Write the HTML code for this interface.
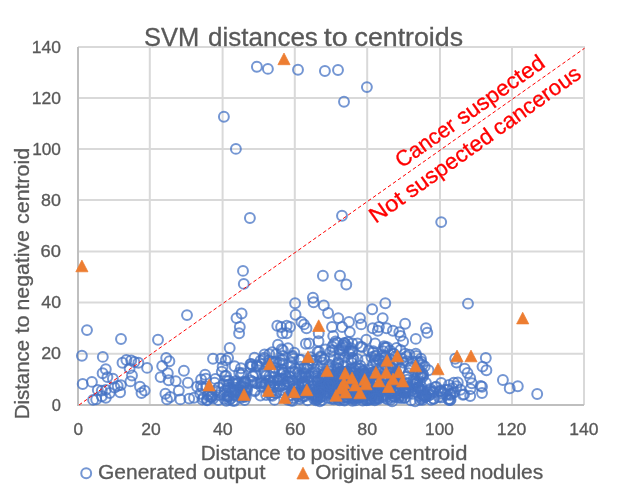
<!DOCTYPE html>
<html><head><meta charset="utf-8"><title>SVM distances to centroids</title>
<style>html,body{margin:0;padding:0;background:#fff;}body{width:629px;height:488px;position:relative;overflow:hidden;font-family:"Liberation Sans",sans-serif;}</style></head>
<body>
<svg width="629" height="488" viewBox="0 0 629 488" style="position:absolute;left:0;top:0;will-change:transform">
<rect width="629" height="488" fill="#fff"/>
<path d="M149.80 45.90V404.90M222.60 45.90V404.90M294.80 45.90V404.90M367.20 45.90V404.90M440.00 45.90V404.90M512.00 45.90V404.90M584.00 45.90V404.90M78.00 353.70H584.90M78.00 302.60H584.90M78.00 251.40H584.90M78.00 199.90H584.90M78.00 148.90H584.90M78.00 97.90H584.90M78.00 46.90H584.90" stroke="#D9D9D9" stroke-width="2" fill="none"/>
<path d="M78.00 46.90V405.90M77.00 404.90H584.00" stroke="#BFBFBF" stroke-width="2" fill="none"/>
<g fill="none" stroke="#4472C4" stroke-opacity="0.74" stroke-width="2">
<circle cx="335.3" cy="392.4" r="4.95"/>
<circle cx="389.7" cy="391.8" r="4.95"/>
<circle cx="389.7" cy="394.0" r="4.95"/>
<circle cx="331.6" cy="398.8" r="4.95"/>
<circle cx="279.2" cy="386.3" r="4.95"/>
<circle cx="354.8" cy="376.8" r="4.95"/>
<circle cx="310.1" cy="393.2" r="4.95"/>
<circle cx="368.1" cy="399.1" r="4.95"/>
<circle cx="367.0" cy="389.7" r="4.95"/>
<circle cx="413.7" cy="379.3" r="4.95"/>
<circle cx="317.6" cy="395.4" r="4.95"/>
<circle cx="341.2" cy="394.2" r="4.95"/>
<circle cx="403.2" cy="392.3" r="4.95"/>
<circle cx="394.0" cy="391.8" r="4.95"/>
<circle cx="397.4" cy="381.1" r="4.95"/>
<circle cx="300.0" cy="392.7" r="4.95"/>
<circle cx="322.7" cy="375.8" r="4.95"/>
<circle cx="359.9" cy="368.8" r="4.95"/>
<circle cx="309.5" cy="393.5" r="4.95"/>
<circle cx="295.2" cy="368.6" r="4.95"/>
<circle cx="366.1" cy="375.5" r="4.95"/>
<circle cx="355.0" cy="393.8" r="4.95"/>
<circle cx="290.7" cy="395.2" r="4.95"/>
<circle cx="338.0" cy="397.2" r="4.95"/>
<circle cx="362.7" cy="400.5" r="4.95"/>
<circle cx="324.7" cy="373.5" r="4.95"/>
<circle cx="396.4" cy="380.1" r="4.95"/>
<circle cx="361.2" cy="386.5" r="4.95"/>
<circle cx="273.4" cy="387.0" r="4.95"/>
<circle cx="364.5" cy="391.7" r="4.95"/>
<circle cx="374.3" cy="389.7" r="4.95"/>
<circle cx="329.0" cy="386.6" r="4.95"/>
<circle cx="364.1" cy="375.3" r="4.95"/>
<circle cx="327.8" cy="381.7" r="4.95"/>
<circle cx="305.2" cy="376.4" r="4.95"/>
<circle cx="304.6" cy="396.3" r="4.95"/>
<circle cx="307.6" cy="381.4" r="4.95"/>
<circle cx="379.6" cy="390.4" r="4.95"/>
<circle cx="356.6" cy="398.4" r="4.95"/>
<circle cx="356.5" cy="396.8" r="4.95"/>
<circle cx="360.4" cy="365.6" r="4.95"/>
<circle cx="358.4" cy="393.5" r="4.95"/>
<circle cx="369.8" cy="395.6" r="4.95"/>
<circle cx="360.8" cy="381.5" r="4.95"/>
<circle cx="343.5" cy="394.4" r="4.95"/>
<circle cx="354.9" cy="398.5" r="4.95"/>
<circle cx="359.6" cy="391.7" r="4.95"/>
<circle cx="341.5" cy="380.0" r="4.95"/>
<circle cx="353.7" cy="383.5" r="4.95"/>
<circle cx="299.0" cy="394.3" r="4.95"/>
<circle cx="363.3" cy="371.1" r="4.95"/>
<circle cx="417.0" cy="382.1" r="4.95"/>
<circle cx="317.0" cy="398.9" r="4.95"/>
<circle cx="375.7" cy="382.8" r="4.95"/>
<circle cx="333.8" cy="357.1" r="4.95"/>
<circle cx="338.0" cy="399.2" r="4.95"/>
<circle cx="373.5" cy="394.5" r="4.95"/>
<circle cx="398.8" cy="390.6" r="4.95"/>
<circle cx="329.5" cy="375.2" r="4.95"/>
<circle cx="308.2" cy="390.5" r="4.95"/>
<circle cx="348.9" cy="385.6" r="4.95"/>
<circle cx="407.5" cy="387.2" r="4.95"/>
<circle cx="370.0" cy="399.9" r="4.95"/>
<circle cx="321.5" cy="379.0" r="4.95"/>
<circle cx="415.6" cy="381.2" r="4.95"/>
<circle cx="404.6" cy="392.4" r="4.95"/>
<circle cx="350.4" cy="388.7" r="4.95"/>
<circle cx="306.2" cy="368.4" r="4.95"/>
<circle cx="378.0" cy="398.3" r="4.95"/>
<circle cx="374.8" cy="400.2" r="4.95"/>
<circle cx="398.2" cy="393.3" r="4.95"/>
<circle cx="355.7" cy="389.6" r="4.95"/>
<circle cx="380.4" cy="386.2" r="4.95"/>
<circle cx="322.0" cy="379.5" r="4.95"/>
<circle cx="344.9" cy="382.4" r="4.95"/>
<circle cx="350.5" cy="369.5" r="4.95"/>
<circle cx="347.2" cy="373.2" r="4.95"/>
<circle cx="356.1" cy="391.6" r="4.95"/>
<circle cx="377.5" cy="378.6" r="4.95"/>
<circle cx="343.0" cy="385.1" r="4.95"/>
<circle cx="323.0" cy="380.1" r="4.95"/>
<circle cx="343.8" cy="380.5" r="4.95"/>
<circle cx="359.9" cy="375.7" r="4.95"/>
<circle cx="323.3" cy="388.6" r="4.95"/>
<circle cx="334.5" cy="369.5" r="4.95"/>
<circle cx="318.9" cy="387.6" r="4.95"/>
<circle cx="360.9" cy="393.5" r="4.95"/>
<circle cx="333.1" cy="375.9" r="4.95"/>
<circle cx="275.6" cy="393.2" r="4.95"/>
<circle cx="355.1" cy="396.3" r="4.95"/>
<circle cx="325.0" cy="385.4" r="4.95"/>
<circle cx="341.9" cy="389.6" r="4.95"/>
<circle cx="403.3" cy="383.4" r="4.95"/>
<circle cx="331.2" cy="389.3" r="4.95"/>
<circle cx="393.9" cy="353.8" r="4.95"/>
<circle cx="390.8" cy="393.3" r="4.95"/>
<circle cx="342.1" cy="371.4" r="4.95"/>
<circle cx="362.5" cy="388.7" r="4.95"/>
<circle cx="375.7" cy="395.8" r="4.95"/>
<circle cx="317.5" cy="381.2" r="4.95"/>
<circle cx="320.3" cy="396.4" r="4.95"/>
<circle cx="352.8" cy="395.4" r="4.95"/>
<circle cx="352.4" cy="380.2" r="4.95"/>
<circle cx="333.9" cy="386.0" r="4.95"/>
<circle cx="355.8" cy="388.9" r="4.95"/>
<circle cx="331.5" cy="388.6" r="4.95"/>
<circle cx="340.5" cy="398.5" r="4.95"/>
<circle cx="356.3" cy="395.8" r="4.95"/>
<circle cx="376.8" cy="396.3" r="4.95"/>
<circle cx="390.8" cy="399.6" r="4.95"/>
<circle cx="351.7" cy="372.6" r="4.95"/>
<circle cx="351.7" cy="394.0" r="4.95"/>
<circle cx="387.3" cy="375.6" r="4.95"/>
<circle cx="391.0" cy="367.6" r="4.95"/>
<circle cx="347.8" cy="374.3" r="4.95"/>
<circle cx="342.9" cy="383.0" r="4.95"/>
<circle cx="408.2" cy="389.6" r="4.95"/>
<circle cx="314.9" cy="392.7" r="4.95"/>
<circle cx="352.5" cy="400.8" r="4.95"/>
<circle cx="315.0" cy="372.0" r="4.95"/>
<circle cx="384.1" cy="394.6" r="4.95"/>
<circle cx="317.0" cy="396.3" r="4.95"/>
<circle cx="388.0" cy="388.4" r="4.95"/>
<circle cx="355.8" cy="379.4" r="4.95"/>
<circle cx="336.9" cy="386.5" r="4.95"/>
<circle cx="338.1" cy="384.0" r="4.95"/>
<circle cx="345.7" cy="389.6" r="4.95"/>
<circle cx="345.0" cy="387.6" r="4.95"/>
<circle cx="346.4" cy="397.4" r="4.95"/>
<circle cx="352.3" cy="397.2" r="4.95"/>
<circle cx="372.7" cy="372.2" r="4.95"/>
<circle cx="333.4" cy="393.8" r="4.95"/>
<circle cx="292.5" cy="355.6" r="4.95"/>
<circle cx="336.2" cy="376.2" r="4.95"/>
<circle cx="388.3" cy="369.1" r="4.95"/>
<circle cx="338.1" cy="369.0" r="4.95"/>
<circle cx="370.5" cy="370.0" r="4.95"/>
<circle cx="392.6" cy="384.7" r="4.95"/>
<circle cx="346.7" cy="397.1" r="4.95"/>
<circle cx="333.5" cy="395.1" r="4.95"/>
<circle cx="293.3" cy="392.5" r="4.95"/>
<circle cx="326.0" cy="382.8" r="4.95"/>
<circle cx="365.0" cy="373.2" r="4.95"/>
<circle cx="288.5" cy="395.8" r="4.95"/>
<circle cx="342.9" cy="388.0" r="4.95"/>
<circle cx="339.2" cy="372.8" r="4.95"/>
<circle cx="318.0" cy="373.6" r="4.95"/>
<circle cx="335.5" cy="396.0" r="4.95"/>
<circle cx="343.8" cy="372.1" r="4.95"/>
<circle cx="339.7" cy="400.4" r="4.95"/>
<circle cx="338.5" cy="375.0" r="4.95"/>
<circle cx="330.6" cy="388.3" r="4.95"/>
<circle cx="302.0" cy="397.2" r="4.95"/>
<circle cx="366.3" cy="394.2" r="4.95"/>
<circle cx="389.8" cy="359.0" r="4.95"/>
<circle cx="342.3" cy="389.4" r="4.95"/>
<circle cx="358.3" cy="378.7" r="4.95"/>
<circle cx="330.7" cy="379.3" r="4.95"/>
<circle cx="400.0" cy="380.4" r="4.95"/>
<circle cx="305.0" cy="385.0" r="4.95"/>
<circle cx="318.0" cy="380.8" r="4.95"/>
<circle cx="346.5" cy="398.4" r="4.95"/>
<circle cx="366.2" cy="387.7" r="4.95"/>
<circle cx="415.1" cy="401.4" r="4.95"/>
<circle cx="269.5" cy="376.3" r="4.95"/>
<circle cx="317.4" cy="397.3" r="4.95"/>
<circle cx="382.6" cy="377.7" r="4.95"/>
<circle cx="345.1" cy="388.7" r="4.95"/>
<circle cx="359.4" cy="374.3" r="4.95"/>
<circle cx="390.4" cy="389.1" r="4.95"/>
<circle cx="333.6" cy="390.0" r="4.95"/>
<circle cx="343.7" cy="365.8" r="4.95"/>
<circle cx="323.0" cy="374.6" r="4.95"/>
<circle cx="281.0" cy="374.4" r="4.95"/>
<circle cx="302.2" cy="392.5" r="4.95"/>
<circle cx="319.7" cy="393.2" r="4.95"/>
<circle cx="336.2" cy="393.2" r="4.95"/>
<circle cx="373.3" cy="387.8" r="4.95"/>
<circle cx="340.9" cy="394.4" r="4.95"/>
<circle cx="393.6" cy="396.3" r="4.95"/>
<circle cx="366.0" cy="384.1" r="4.95"/>
<circle cx="271.2" cy="392.2" r="4.95"/>
<circle cx="352.2" cy="387.8" r="4.95"/>
<circle cx="376.1" cy="379.0" r="4.95"/>
<circle cx="302.4" cy="382.9" r="4.95"/>
<circle cx="370.4" cy="398.2" r="4.95"/>
<circle cx="357.6" cy="392.5" r="4.95"/>
<circle cx="341.3" cy="377.1" r="4.95"/>
<circle cx="287.8" cy="399.8" r="4.95"/>
<circle cx="375.2" cy="359.7" r="4.95"/>
<circle cx="378.4" cy="399.0" r="4.95"/>
<circle cx="339.5" cy="392.0" r="4.95"/>
<circle cx="412.0" cy="386.7" r="4.95"/>
<circle cx="375.1" cy="399.2" r="4.95"/>
<circle cx="372.8" cy="383.6" r="4.95"/>
<circle cx="404.8" cy="391.3" r="4.95"/>
<circle cx="349.5" cy="381.9" r="4.95"/>
<circle cx="412.7" cy="393.9" r="4.95"/>
<circle cx="395.6" cy="389.1" r="4.95"/>
<circle cx="366.5" cy="391.8" r="4.95"/>
<circle cx="339.3" cy="393.3" r="4.95"/>
<circle cx="293.5" cy="398.0" r="4.95"/>
<circle cx="354.4" cy="377.6" r="4.95"/>
<circle cx="331.4" cy="382.7" r="4.95"/>
<circle cx="294.7" cy="372.3" r="4.95"/>
<circle cx="348.3" cy="388.2" r="4.95"/>
<circle cx="335.9" cy="386.9" r="4.95"/>
<circle cx="342.8" cy="375.0" r="4.95"/>
<circle cx="347.0" cy="396.9" r="4.95"/>
<circle cx="292.6" cy="388.6" r="4.95"/>
<circle cx="364.5" cy="373.5" r="4.95"/>
<circle cx="374.7" cy="356.1" r="4.95"/>
<circle cx="357.7" cy="389.8" r="4.95"/>
<circle cx="347.6" cy="386.6" r="4.95"/>
<circle cx="319.9" cy="401.3" r="4.95"/>
<circle cx="294.4" cy="388.4" r="4.95"/>
<circle cx="369.6" cy="387.3" r="4.95"/>
<circle cx="367.2" cy="400.0" r="4.95"/>
<circle cx="382.4" cy="395.0" r="4.95"/>
<circle cx="393.5" cy="382.2" r="4.95"/>
<circle cx="377.8" cy="394.9" r="4.95"/>
<circle cx="406.0" cy="390.0" r="4.95"/>
<circle cx="325.6" cy="386.6" r="4.95"/>
<circle cx="333.6" cy="392.1" r="4.95"/>
<circle cx="338.6" cy="385.2" r="4.95"/>
<circle cx="418.6" cy="369.2" r="4.95"/>
<circle cx="299.6" cy="375.5" r="4.95"/>
<circle cx="333.9" cy="399.2" r="4.95"/>
<circle cx="283.3" cy="372.8" r="4.95"/>
<circle cx="289.7" cy="372.8" r="4.95"/>
<circle cx="283.9" cy="384.2" r="4.95"/>
<circle cx="355.7" cy="400.4" r="4.95"/>
<circle cx="372.3" cy="394.9" r="4.95"/>
<circle cx="374.5" cy="391.9" r="4.95"/>
<circle cx="398.6" cy="395.1" r="4.95"/>
<circle cx="338.2" cy="386.3" r="4.95"/>
<circle cx="282.0" cy="369.6" r="4.95"/>
<circle cx="350.0" cy="381.4" r="4.95"/>
<circle cx="383.1" cy="396.5" r="4.95"/>
<circle cx="303.5" cy="392.7" r="4.95"/>
<circle cx="374.7" cy="372.2" r="4.95"/>
<circle cx="375.7" cy="373.9" r="4.95"/>
<circle cx="329.1" cy="387.7" r="4.95"/>
<circle cx="348.7" cy="394.5" r="4.95"/>
<circle cx="346.0" cy="388.1" r="4.95"/>
<circle cx="394.7" cy="396.8" r="4.95"/>
<circle cx="335.3" cy="387.6" r="4.95"/>
<circle cx="343.1" cy="384.3" r="4.95"/>
<circle cx="372.1" cy="389.2" r="4.95"/>
<circle cx="355.0" cy="382.1" r="4.95"/>
<circle cx="304.6" cy="386.4" r="4.95"/>
<circle cx="297.3" cy="393.5" r="4.95"/>
<circle cx="317.6" cy="381.1" r="4.95"/>
<circle cx="392.1" cy="401.4" r="4.95"/>
<circle cx="375.3" cy="384.0" r="4.95"/>
<circle cx="310.7" cy="357.1" r="4.95"/>
<circle cx="353.9" cy="369.3" r="4.95"/>
<circle cx="377.5" cy="370.5" r="4.95"/>
<circle cx="377.5" cy="397.8" r="4.95"/>
<circle cx="385.1" cy="356.9" r="4.95"/>
<circle cx="380.2" cy="394.2" r="4.95"/>
<circle cx="325.1" cy="393.0" r="4.95"/>
<circle cx="362.4" cy="392.2" r="4.95"/>
<circle cx="298.6" cy="386.4" r="4.95"/>
<circle cx="359.1" cy="387.4" r="4.95"/>
<circle cx="359.5" cy="379.9" r="4.95"/>
<circle cx="377.5" cy="390.9" r="4.95"/>
<circle cx="334.3" cy="395.6" r="4.95"/>
<circle cx="331.7" cy="384.3" r="4.95"/>
<circle cx="310.6" cy="360.2" r="4.95"/>
<circle cx="311.3" cy="394.7" r="4.95"/>
<circle cx="328.2" cy="392.6" r="4.95"/>
<circle cx="280.1" cy="386.3" r="4.95"/>
<circle cx="378.2" cy="388.2" r="4.95"/>
<circle cx="359.9" cy="397.4" r="4.95"/>
<circle cx="313.0" cy="386.2" r="4.95"/>
<circle cx="335.4" cy="380.3" r="4.95"/>
<circle cx="381.3" cy="388.4" r="4.95"/>
<circle cx="371.2" cy="399.1" r="4.95"/>
<circle cx="346.9" cy="372.0" r="4.95"/>
<circle cx="385.3" cy="396.1" r="4.95"/>
<circle cx="323.2" cy="384.1" r="4.95"/>
<circle cx="373.7" cy="391.9" r="4.95"/>
<circle cx="366.4" cy="397.4" r="4.95"/>
<circle cx="334.4" cy="383.7" r="4.95"/>
<circle cx="381.7" cy="390.9" r="4.95"/>
<circle cx="321.1" cy="385.2" r="4.95"/>
<circle cx="324.7" cy="383.4" r="4.95"/>
<circle cx="359.5" cy="386.3" r="4.95"/>
<circle cx="314.1" cy="398.9" r="4.95"/>
<circle cx="276.5" cy="392.9" r="4.95"/>
<circle cx="386.1" cy="388.4" r="4.95"/>
<circle cx="375.9" cy="381.6" r="4.95"/>
<circle cx="362.4" cy="396.7" r="4.95"/>
<circle cx="333.0" cy="397.9" r="4.95"/>
<circle cx="298.6" cy="384.1" r="4.95"/>
<circle cx="344.5" cy="378.4" r="4.95"/>
<circle cx="404.7" cy="397.9" r="4.95"/>
<circle cx="272.9" cy="380.9" r="4.95"/>
<circle cx="340.2" cy="392.3" r="4.95"/>
<circle cx="333.4" cy="395.6" r="4.95"/>
<circle cx="322.1" cy="396.4" r="4.95"/>
<circle cx="417.7" cy="361.4" r="4.95"/>
<circle cx="344.2" cy="399.9" r="4.95"/>
<circle cx="392.5" cy="390.5" r="4.95"/>
<circle cx="351.2" cy="376.7" r="4.95"/>
<circle cx="322.1" cy="386.2" r="4.95"/>
<circle cx="406.3" cy="376.6" r="4.95"/>
<circle cx="334.6" cy="385.7" r="4.95"/>
<circle cx="332.9" cy="389.3" r="4.95"/>
<circle cx="316.5" cy="396.5" r="4.95"/>
<circle cx="302.3" cy="378.1" r="4.95"/>
<circle cx="374.6" cy="375.1" r="4.95"/>
<circle cx="358.4" cy="389.2" r="4.95"/>
<circle cx="344.5" cy="400.6" r="4.95"/>
<circle cx="378.0" cy="381.6" r="4.95"/>
<circle cx="338.7" cy="392.9" r="4.95"/>
<circle cx="366.5" cy="400.3" r="4.95"/>
<circle cx="345.9" cy="388.4" r="4.95"/>
<circle cx="368.6" cy="380.9" r="4.95"/>
<circle cx="318.9" cy="387.1" r="4.95"/>
<circle cx="313.8" cy="389.2" r="4.95"/>
<circle cx="333.9" cy="380.5" r="4.95"/>
<circle cx="377.6" cy="397.9" r="4.95"/>
<circle cx="306.0" cy="375.9" r="4.95"/>
<circle cx="349.6" cy="386.4" r="4.95"/>
<circle cx="391.7" cy="374.7" r="4.95"/>
<circle cx="320.6" cy="397.2" r="4.95"/>
<circle cx="338.7" cy="390.6" r="4.95"/>
<circle cx="339.3" cy="392.3" r="4.95"/>
<circle cx="337.5" cy="385.0" r="4.95"/>
<circle cx="315.8" cy="397.3" r="4.95"/>
<circle cx="357.4" cy="395.7" r="4.95"/>
<circle cx="283.8" cy="385.0" r="4.95"/>
<circle cx="291.0" cy="400.6" r="4.95"/>
<circle cx="301.9" cy="391.3" r="4.95"/>
<circle cx="363.2" cy="386.3" r="4.95"/>
<circle cx="402.3" cy="385.7" r="4.95"/>
<circle cx="293.7" cy="383.5" r="4.95"/>
<circle cx="331.3" cy="387.7" r="4.95"/>
<circle cx="340.9" cy="389.4" r="4.95"/>
<circle cx="339.4" cy="387.7" r="4.95"/>
<circle cx="307.4" cy="368.9" r="4.95"/>
<circle cx="351.4" cy="362.6" r="4.95"/>
<circle cx="324.8" cy="376.8" r="4.95"/>
<circle cx="270.8" cy="395.1" r="4.95"/>
<circle cx="372.1" cy="386.6" r="4.95"/>
<circle cx="314.6" cy="395.0" r="4.95"/>
<circle cx="351.2" cy="398.3" r="4.95"/>
<circle cx="378.4" cy="394.5" r="4.95"/>
<circle cx="304.5" cy="381.0" r="4.95"/>
<circle cx="394.1" cy="392.0" r="4.95"/>
<circle cx="375.8" cy="371.4" r="4.95"/>
<circle cx="418.7" cy="387.1" r="4.95"/>
<circle cx="363.2" cy="398.7" r="4.95"/>
<circle cx="366.9" cy="378.1" r="4.95"/>
<circle cx="323.3" cy="390.7" r="4.95"/>
<circle cx="400.1" cy="384.2" r="4.95"/>
<circle cx="327.9" cy="384.5" r="4.95"/>
<circle cx="344.1" cy="387.0" r="4.95"/>
<circle cx="321.8" cy="390.0" r="4.95"/>
<circle cx="385.7" cy="398.0" r="4.95"/>
<circle cx="350.7" cy="385.2" r="4.95"/>
<circle cx="407.4" cy="383.7" r="4.95"/>
<circle cx="274.6" cy="399.9" r="4.95"/>
<circle cx="339.1" cy="358.7" r="4.95"/>
<circle cx="359.0" cy="374.5" r="4.95"/>
<circle cx="389.1" cy="385.4" r="4.95"/>
<circle cx="360.0" cy="374.7" r="4.95"/>
<circle cx="319.6" cy="389.5" r="4.95"/>
<circle cx="279.5" cy="378.4" r="4.95"/>
<circle cx="352.3" cy="399.0" r="4.95"/>
<circle cx="338.4" cy="363.2" r="4.95"/>
<circle cx="285.6" cy="376.0" r="4.95"/>
<circle cx="298.0" cy="396.2" r="4.95"/>
<circle cx="346.5" cy="375.8" r="4.95"/>
<circle cx="334.8" cy="392.4" r="4.95"/>
<circle cx="311.1" cy="376.5" r="4.95"/>
<circle cx="282.0" cy="390.0" r="4.95"/>
<circle cx="376.6" cy="387.4" r="4.95"/>
<circle cx="347.4" cy="389.9" r="4.95"/>
<circle cx="323.2" cy="368.6" r="4.95"/>
<circle cx="362.2" cy="390.4" r="4.95"/>
<circle cx="322.1" cy="400.1" r="4.95"/>
<circle cx="385.7" cy="356.4" r="4.95"/>
<circle cx="406.2" cy="387.4" r="4.95"/>
<circle cx="368.8" cy="393.5" r="4.95"/>
<circle cx="283.4" cy="393.1" r="4.95"/>
<circle cx="398.9" cy="396.8" r="4.95"/>
<circle cx="383.4" cy="376.1" r="4.95"/>
<circle cx="387.2" cy="376.3" r="4.95"/>
<circle cx="345.3" cy="386.3" r="4.95"/>
<circle cx="387.5" cy="399.4" r="4.95"/>
<circle cx="286.4" cy="388.2" r="4.95"/>
<circle cx="354.0" cy="373.2" r="4.95"/>
<circle cx="383.1" cy="351.1" r="4.95"/>
<circle cx="357.5" cy="380.3" r="4.95"/>
<circle cx="252.3" cy="365.8" r="4.95"/>
<circle cx="355.2" cy="373.7" r="4.95"/>
<circle cx="353.6" cy="359.2" r="4.95"/>
<circle cx="268.8" cy="360.5" r="4.95"/>
<circle cx="328.1" cy="398.1" r="4.95"/>
<circle cx="264.5" cy="354.5" r="4.95"/>
<circle cx="253.0" cy="375.7" r="4.95"/>
<circle cx="332.5" cy="350.3" r="4.95"/>
<circle cx="312.8" cy="386.5" r="4.95"/>
<circle cx="309.3" cy="392.3" r="4.95"/>
<circle cx="302.2" cy="382.8" r="4.95"/>
<circle cx="236.0" cy="383.8" r="4.95"/>
<circle cx="301.5" cy="385.9" r="4.95"/>
<circle cx="415.2" cy="388.7" r="4.95"/>
<circle cx="309.2" cy="391.8" r="4.95"/>
<circle cx="390.0" cy="372.6" r="4.95"/>
<circle cx="277.1" cy="380.1" r="4.95"/>
<circle cx="391.7" cy="372.8" r="4.95"/>
<circle cx="339.4" cy="350.1" r="4.95"/>
<circle cx="397.9" cy="378.4" r="4.95"/>
<circle cx="287.8" cy="381.7" r="4.95"/>
<circle cx="316.3" cy="359.8" r="4.95"/>
<circle cx="408.6" cy="392.3" r="4.95"/>
<circle cx="360.3" cy="393.7" r="4.95"/>
<circle cx="278.6" cy="380.3" r="4.95"/>
<circle cx="408.2" cy="390.7" r="4.95"/>
<circle cx="351.1" cy="359.4" r="4.95"/>
<circle cx="385.8" cy="387.9" r="4.95"/>
<circle cx="336.1" cy="372.6" r="4.95"/>
<circle cx="340.7" cy="385.0" r="4.95"/>
<circle cx="328.8" cy="370.9" r="4.95"/>
<circle cx="328.4" cy="366.7" r="4.95"/>
<circle cx="323.9" cy="359.5" r="4.95"/>
<circle cx="305.9" cy="343.8" r="4.95"/>
<circle cx="365.4" cy="379.5" r="4.95"/>
<circle cx="332.2" cy="346.6" r="4.95"/>
<circle cx="372.3" cy="379.2" r="4.95"/>
<circle cx="304.2" cy="368.0" r="4.95"/>
<circle cx="274.2" cy="376.9" r="4.95"/>
<circle cx="393.3" cy="353.9" r="4.95"/>
<circle cx="330.8" cy="368.6" r="4.95"/>
<circle cx="360.0" cy="379.3" r="4.95"/>
<circle cx="291.3" cy="362.7" r="4.95"/>
<circle cx="404.7" cy="397.7" r="4.95"/>
<circle cx="234.6" cy="366.2" r="4.95"/>
<circle cx="360.7" cy="346.6" r="4.95"/>
<circle cx="352.7" cy="357.9" r="4.95"/>
<circle cx="365.1" cy="360.2" r="4.95"/>
<circle cx="380.9" cy="388.8" r="4.95"/>
<circle cx="383.2" cy="361.7" r="4.95"/>
<circle cx="392.5" cy="367.8" r="4.95"/>
<circle cx="291.8" cy="380.5" r="4.95"/>
<circle cx="357.5" cy="397.0" r="4.95"/>
<circle cx="241.0" cy="368.2" r="4.95"/>
<circle cx="411.0" cy="400.2" r="4.95"/>
<circle cx="347.9" cy="342.0" r="4.95"/>
<circle cx="313.2" cy="360.7" r="4.95"/>
<circle cx="258.4" cy="366.5" r="4.95"/>
<circle cx="371.4" cy="357.1" r="4.95"/>
<circle cx="355.0" cy="371.5" r="4.95"/>
<circle cx="282.5" cy="359.8" r="4.95"/>
<circle cx="391.5" cy="381.6" r="4.95"/>
<circle cx="265.5" cy="375.2" r="4.95"/>
<circle cx="304.5" cy="373.0" r="4.95"/>
<circle cx="261.4" cy="381.9" r="4.95"/>
<circle cx="355.2" cy="375.9" r="4.95"/>
<circle cx="416.1" cy="372.1" r="4.95"/>
<circle cx="369.4" cy="379.5" r="4.95"/>
<circle cx="422.4" cy="373.3" r="4.95"/>
<circle cx="316.3" cy="376.3" r="4.95"/>
<circle cx="349.8" cy="351.6" r="4.95"/>
<circle cx="233.7" cy="384.1" r="4.95"/>
<circle cx="390.4" cy="367.0" r="4.95"/>
<circle cx="398.0" cy="362.1" r="4.95"/>
<circle cx="300.5" cy="366.6" r="4.95"/>
<circle cx="272.2" cy="352.2" r="4.95"/>
<circle cx="350.8" cy="371.1" r="4.95"/>
<circle cx="282.7" cy="355.9" r="4.95"/>
<circle cx="250.4" cy="366.8" r="4.95"/>
<circle cx="345.5" cy="347.2" r="4.95"/>
<circle cx="325.6" cy="387.8" r="4.95"/>
<circle cx="268.4" cy="380.9" r="4.95"/>
<circle cx="311.2" cy="390.5" r="4.95"/>
<circle cx="426.2" cy="395.8" r="4.95"/>
<circle cx="385.7" cy="365.0" r="4.95"/>
<circle cx="400.9" cy="368.5" r="4.95"/>
<circle cx="384.1" cy="346.2" r="4.95"/>
<circle cx="391.7" cy="384.9" r="4.95"/>
<circle cx="272.3" cy="395.7" r="4.95"/>
<circle cx="341.2" cy="371.4" r="4.95"/>
<circle cx="409.4" cy="368.0" r="4.95"/>
<circle cx="283.1" cy="363.7" r="4.95"/>
<circle cx="362.9" cy="372.5" r="4.95"/>
<circle cx="420.2" cy="389.5" r="4.95"/>
<circle cx="282.9" cy="350.1" r="4.95"/>
<circle cx="395.3" cy="356.4" r="4.95"/>
<circle cx="358.5" cy="396.9" r="4.95"/>
<circle cx="379.4" cy="360.4" r="4.95"/>
<circle cx="347.8" cy="393.4" r="4.95"/>
<circle cx="283.1" cy="372.2" r="4.95"/>
<circle cx="279.5" cy="362.6" r="4.95"/>
<circle cx="276.1" cy="354.1" r="4.95"/>
<circle cx="260.4" cy="395.5" r="4.95"/>
<circle cx="396.3" cy="374.1" r="4.95"/>
<circle cx="392.6" cy="364.3" r="4.95"/>
<circle cx="276.3" cy="361.6" r="4.95"/>
<circle cx="261.4" cy="386.7" r="4.95"/>
<circle cx="263.5" cy="359.4" r="4.95"/>
<circle cx="265.9" cy="383.5" r="4.95"/>
<circle cx="362.6" cy="370.8" r="4.95"/>
<circle cx="283.3" cy="378.7" r="4.95"/>
<circle cx="426.4" cy="396.2" r="4.95"/>
<circle cx="406.7" cy="361.2" r="4.95"/>
<circle cx="422.6" cy="365.0" r="4.95"/>
<circle cx="260.5" cy="360.8" r="4.95"/>
<circle cx="269.3" cy="354.1" r="4.95"/>
<circle cx="343.9" cy="388.4" r="4.95"/>
<circle cx="371.0" cy="395.3" r="4.95"/>
<circle cx="351.1" cy="382.6" r="4.95"/>
<circle cx="351.8" cy="351.5" r="4.95"/>
<circle cx="272.5" cy="361.7" r="4.95"/>
<circle cx="373.0" cy="352.8" r="4.95"/>
<circle cx="396.2" cy="371.9" r="4.95"/>
<circle cx="409.4" cy="354.6" r="4.95"/>
<circle cx="269.4" cy="380.5" r="4.95"/>
<circle cx="319.6" cy="392.3" r="4.95"/>
<circle cx="391.3" cy="381.0" r="4.95"/>
<circle cx="417.9" cy="375.3" r="4.95"/>
<circle cx="337.3" cy="342.7" r="4.95"/>
<circle cx="268.7" cy="386.6" r="4.95"/>
<circle cx="239.2" cy="372.8" r="4.95"/>
<circle cx="344.9" cy="357.4" r="4.95"/>
<circle cx="401.5" cy="398.0" r="4.95"/>
<circle cx="328.9" cy="382.2" r="4.95"/>
<circle cx="311.9" cy="363.7" r="4.95"/>
<circle cx="261.9" cy="364.1" r="4.95"/>
<circle cx="393.1" cy="377.3" r="4.95"/>
<circle cx="395.8" cy="377.2" r="4.95"/>
<circle cx="383.6" cy="385.3" r="4.95"/>
<circle cx="317.6" cy="351.7" r="4.95"/>
<circle cx="391.0" cy="397.3" r="4.95"/>
<circle cx="418.6" cy="387.9" r="4.95"/>
<circle cx="355.8" cy="367.5" r="4.95"/>
<circle cx="317.1" cy="399.5" r="4.95"/>
<circle cx="420.9" cy="358.6" r="4.95"/>
<circle cx="389.9" cy="350.4" r="4.95"/>
<circle cx="357.5" cy="359.2" r="4.95"/>
<circle cx="338.3" cy="362.0" r="4.95"/>
<circle cx="334.0" cy="343.6" r="4.95"/>
<circle cx="292.5" cy="392.6" r="4.95"/>
<circle cx="418.3" cy="386.9" r="4.95"/>
<circle cx="336.6" cy="392.1" r="4.95"/>
<circle cx="290.2" cy="382.4" r="4.95"/>
<circle cx="250.4" cy="364.1" r="4.95"/>
<circle cx="343.7" cy="387.1" r="4.95"/>
<circle cx="322.5" cy="362.5" r="4.95"/>
<circle cx="293.5" cy="386.3" r="4.95"/>
<circle cx="307.5" cy="400.2" r="4.95"/>
<circle cx="400.1" cy="369.0" r="4.95"/>
<circle cx="288.5" cy="382.0" r="4.95"/>
<circle cx="264.1" cy="357.7" r="4.95"/>
<circle cx="245.4" cy="381.5" r="4.95"/>
<circle cx="254.5" cy="357.7" r="4.95"/>
<circle cx="263.3" cy="382.2" r="4.95"/>
<circle cx="352.6" cy="351.0" r="4.95"/>
<circle cx="376.3" cy="355.7" r="4.95"/>
<circle cx="385.2" cy="348.0" r="4.95"/>
<circle cx="401.8" cy="358.5" r="4.95"/>
<circle cx="329.7" cy="364.8" r="4.95"/>
<circle cx="385.0" cy="364.4" r="4.95"/>
<circle cx="320.9" cy="356.2" r="4.95"/>
<circle cx="309.0" cy="376.0" r="4.95"/>
<circle cx="385.6" cy="370.4" r="4.95"/>
<circle cx="269.0" cy="392.3" r="4.95"/>
<circle cx="345.9" cy="345.3" r="4.95"/>
<circle cx="396.5" cy="347.9" r="4.95"/>
<circle cx="315.9" cy="400.3" r="4.95"/>
<circle cx="342.7" cy="345.3" r="4.95"/>
<circle cx="337.5" cy="368.0" r="4.95"/>
<circle cx="365.9" cy="377.9" r="4.95"/>
<circle cx="301.3" cy="359.7" r="4.95"/>
<circle cx="252.6" cy="381.8" r="4.95"/>
<circle cx="344.4" cy="342.9" r="4.95"/>
<circle cx="318.5" cy="341.2" r="4.95"/>
<circle cx="335.9" cy="389.0" r="4.95"/>
<circle cx="422.6" cy="377.1" r="4.95"/>
<circle cx="406.4" cy="356.5" r="4.95"/>
<circle cx="405.1" cy="391.2" r="4.95"/>
<circle cx="332.3" cy="387.9" r="4.95"/>
<circle cx="355.3" cy="377.8" r="4.95"/>
<circle cx="356.5" cy="374.4" r="4.95"/>
<circle cx="292.7" cy="400.9" r="4.95"/>
<circle cx="396.3" cy="362.7" r="4.95"/>
<circle cx="329.7" cy="383.0" r="4.95"/>
<circle cx="336.2" cy="364.7" r="4.95"/>
<circle cx="256.9" cy="365.2" r="4.95"/>
<circle cx="252.8" cy="376.5" r="4.95"/>
<circle cx="351.9" cy="396.4" r="4.95"/>
<circle cx="382.4" cy="358.4" r="4.95"/>
<circle cx="266.2" cy="395.0" r="4.95"/>
<circle cx="346.0" cy="371.9" r="4.95"/>
<circle cx="346.1" cy="372.5" r="4.95"/>
<circle cx="281.6" cy="349.1" r="4.95"/>
<circle cx="294.3" cy="352.6" r="4.95"/>
<circle cx="349.9" cy="369.3" r="4.95"/>
<circle cx="280.4" cy="360.3" r="4.95"/>
<circle cx="293.2" cy="370.9" r="4.95"/>
<circle cx="280.5" cy="379.4" r="4.95"/>
<circle cx="421.3" cy="374.5" r="4.95"/>
<circle cx="336.6" cy="374.7" r="4.95"/>
<circle cx="257.3" cy="383.2" r="4.95"/>
<circle cx="270.4" cy="387.2" r="4.95"/>
<circle cx="361.9" cy="390.2" r="4.95"/>
<circle cx="251.3" cy="364.0" r="4.95"/>
<circle cx="319.1" cy="351.7" r="4.95"/>
<circle cx="301.7" cy="376.7" r="4.95"/>
<circle cx="273.6" cy="372.8" r="4.95"/>
<circle cx="320.9" cy="357.2" r="4.95"/>
<circle cx="407.4" cy="379.6" r="4.95"/>
<circle cx="351.0" cy="348.1" r="4.95"/>
<circle cx="332.6" cy="382.7" r="4.95"/>
<circle cx="307.8" cy="365.4" r="4.95"/>
<circle cx="308.8" cy="388.7" r="4.95"/>
<circle cx="295.5" cy="393.4" r="4.95"/>
<circle cx="303.3" cy="381.4" r="4.95"/>
<circle cx="293.6" cy="392.3" r="4.95"/>
<circle cx="288.0" cy="348.3" r="4.95"/>
<circle cx="404.1" cy="392.6" r="4.95"/>
<circle cx="361.7" cy="374.5" r="4.95"/>
<circle cx="368.6" cy="350.6" r="4.95"/>
<circle cx="355.0" cy="392.7" r="4.95"/>
<circle cx="375.4" cy="398.1" r="4.95"/>
<circle cx="264.7" cy="384.4" r="4.95"/>
<circle cx="241.0" cy="374.6" r="4.95"/>
<circle cx="395.7" cy="360.1" r="4.95"/>
<circle cx="317.5" cy="377.9" r="4.95"/>
<circle cx="394.7" cy="383.2" r="4.95"/>
<circle cx="398.6" cy="397.8" r="4.95"/>
<circle cx="254.9" cy="390.2" r="4.95"/>
<circle cx="378.3" cy="359.3" r="4.95"/>
<circle cx="378.0" cy="382.7" r="4.95"/>
<circle cx="416.4" cy="355.9" r="4.95"/>
<circle cx="376.2" cy="362.9" r="4.95"/>
<circle cx="243.9" cy="382.2" r="4.95"/>
<circle cx="412.9" cy="361.4" r="4.95"/>
<circle cx="369.3" cy="383.7" r="4.95"/>
<circle cx="420.9" cy="375.1" r="4.95"/>
<circle cx="244.9" cy="382.7" r="4.95"/>
<circle cx="293.5" cy="358.6" r="4.95"/>
<circle cx="279.4" cy="371.1" r="4.95"/>
<circle cx="414.4" cy="384.5" r="4.95"/>
<circle cx="260.9" cy="383.5" r="4.95"/>
<circle cx="339.4" cy="389.1" r="4.95"/>
<circle cx="349.2" cy="353.8" r="4.95"/>
<circle cx="255.6" cy="383.1" r="4.95"/>
<circle cx="245.1" cy="391.7" r="4.95"/>
<circle cx="320.0" cy="379.4" r="4.95"/>
<circle cx="303.6" cy="395.8" r="4.95"/>
<circle cx="425.3" cy="396.8" r="4.95"/>
<circle cx="423.0" cy="395.4" r="4.95"/>
<circle cx="317.4" cy="366.5" r="4.95"/>
<circle cx="411.2" cy="367.0" r="4.95"/>
<circle cx="359.6" cy="384.5" r="4.95"/>
<circle cx="395.8" cy="389.1" r="4.95"/>
<circle cx="396.9" cy="390.2" r="4.95"/>
<circle cx="394.0" cy="380.9" r="4.95"/>
<circle cx="393.0" cy="378.4" r="4.95"/>
<circle cx="304.8" cy="384.9" r="4.95"/>
<circle cx="343.0" cy="350.9" r="4.95"/>
<circle cx="408.4" cy="373.2" r="4.95"/>
<circle cx="263.9" cy="371.1" r="4.95"/>
<circle cx="366.4" cy="372.9" r="4.95"/>
<circle cx="250.8" cy="380.5" r="4.95"/>
<circle cx="373.2" cy="351.2" r="4.95"/>
<circle cx="385.6" cy="382.8" r="4.95"/>
<circle cx="332.9" cy="378.5" r="4.95"/>
<circle cx="362.2" cy="347.1" r="4.95"/>
<circle cx="290.6" cy="366.7" r="4.95"/>
<circle cx="271.2" cy="382.5" r="4.95"/>
<circle cx="421.2" cy="361.7" r="4.95"/>
<circle cx="419.4" cy="362.9" r="4.95"/>
<circle cx="364.2" cy="381.4" r="4.95"/>
<circle cx="417.7" cy="369.1" r="4.95"/>
<circle cx="299.8" cy="399.0" r="4.95"/>
<circle cx="364.6" cy="394.9" r="4.95"/>
<circle cx="305.3" cy="374.2" r="4.95"/>
<circle cx="342.6" cy="392.8" r="4.95"/>
<circle cx="405.5" cy="393.8" r="4.95"/>
<circle cx="282.4" cy="369.7" r="4.95"/>
<circle cx="328.0" cy="385.5" r="4.95"/>
<circle cx="255.3" cy="373.0" r="4.95"/>
<circle cx="312.3" cy="372.6" r="4.95"/>
<circle cx="339.9" cy="354.4" r="4.95"/>
<circle cx="425.0" cy="395.9" r="4.95"/>
<circle cx="309.2" cy="343.5" r="4.95"/>
<circle cx="383.3" cy="355.2" r="4.95"/>
<circle cx="274.6" cy="362.4" r="4.95"/>
<circle cx="405.2" cy="353.8" r="4.95"/>
<circle cx="410.8" cy="390.8" r="4.95"/>
<circle cx="299.4" cy="359.6" r="4.95"/>
<circle cx="257.1" cy="366.1" r="4.95"/>
<circle cx="373.0" cy="364.1" r="4.95"/>
<circle cx="339.5" cy="392.8" r="4.95"/>
<circle cx="364.0" cy="387.8" r="4.95"/>
<circle cx="395.5" cy="393.5" r="4.95"/>
<circle cx="254.8" cy="391.4" r="4.95"/>
<circle cx="289.5" cy="377.0" r="4.95"/>
<circle cx="402.7" cy="362.5" r="4.95"/>
<circle cx="416.9" cy="383.0" r="4.95"/>
<circle cx="330.4" cy="351.9" r="4.95"/>
<circle cx="268.7" cy="365.2" r="4.95"/>
<circle cx="325.4" cy="349.5" r="4.95"/>
<circle cx="402.2" cy="396.0" r="4.95"/>
<circle cx="275.2" cy="368.1" r="4.95"/>
<circle cx="266.2" cy="376.0" r="4.95"/>
<circle cx="298.0" cy="372.1" r="4.95"/>
<circle cx="242.2" cy="373.1" r="4.95"/>
<circle cx="286.3" cy="384.1" r="4.95"/>
<circle cx="335.5" cy="341.4" r="4.95"/>
<circle cx="341.8" cy="347.9" r="4.95"/>
<circle cx="355.8" cy="377.3" r="4.95"/>
<circle cx="387.2" cy="347.1" r="4.95"/>
<circle cx="292.2" cy="356.9" r="4.95"/>
<circle cx="228.1" cy="387.7" r="4.95"/>
<circle cx="211.9" cy="396.8" r="4.95"/>
<circle cx="247.2" cy="388.0" r="4.95"/>
<circle cx="206.9" cy="399.8" r="4.95"/>
<circle cx="218.2" cy="400.0" r="4.95"/>
<circle cx="224.5" cy="398.8" r="4.95"/>
<circle cx="210.4" cy="396.8" r="4.95"/>
<circle cx="233.1" cy="389.5" r="4.95"/>
<circle cx="243.6" cy="396.4" r="4.95"/>
<circle cx="235.6" cy="381.2" r="4.95"/>
<circle cx="240.7" cy="386.6" r="4.95"/>
<circle cx="242.4" cy="394.6" r="4.95"/>
<circle cx="207.6" cy="395.6" r="4.95"/>
<circle cx="231.8" cy="391.8" r="4.95"/>
<circle cx="215.3" cy="378.9" r="4.95"/>
<circle cx="228.8" cy="384.4" r="4.95"/>
<circle cx="245.9" cy="396.7" r="4.95"/>
<circle cx="241.1" cy="397.9" r="4.95"/>
<circle cx="212.2" cy="394.7" r="4.95"/>
<circle cx="241.1" cy="385.2" r="4.95"/>
<circle cx="243.7" cy="390.5" r="4.95"/>
<circle cx="228.8" cy="380.6" r="4.95"/>
<circle cx="230.5" cy="387.7" r="4.95"/>
<circle cx="227.6" cy="396.2" r="4.95"/>
<circle cx="220.5" cy="392.5" r="4.95"/>
<circle cx="218.8" cy="395.1" r="4.95"/>
<circle cx="243.8" cy="396.6" r="4.95"/>
<circle cx="232.9" cy="400.9" r="4.95"/>
<circle cx="211.5" cy="397.0" r="4.95"/>
<circle cx="235.2" cy="394.8" r="4.95"/>
<circle cx="237.8" cy="383.1" r="4.95"/>
<circle cx="229.3" cy="396.8" r="4.95"/>
<circle cx="226.3" cy="400.7" r="4.95"/>
<circle cx="235.0" cy="390.5" r="4.95"/>
<circle cx="235.7" cy="395.8" r="4.95"/>
<circle cx="244.7" cy="400.0" r="4.95"/>
<circle cx="229.2" cy="399.9" r="4.95"/>
<circle cx="235.6" cy="391.2" r="4.95"/>
<circle cx="234.7" cy="400.7" r="4.95"/>
<circle cx="200.9" cy="385.9" r="4.95"/>
<circle cx="223.8" cy="395.2" r="4.95"/>
<circle cx="244.6" cy="396.1" r="4.95"/>
<circle cx="243.6" cy="394.2" r="4.95"/>
<circle cx="202.4" cy="399.5" r="4.95"/>
<circle cx="246.9" cy="391.0" r="4.95"/>
<circle cx="228.1" cy="396.4" r="4.95"/>
<circle cx="242.6" cy="386.5" r="4.95"/>
<circle cx="233.4" cy="382.8" r="4.95"/>
<circle cx="240.5" cy="393.2" r="4.95"/>
<circle cx="244.9" cy="384.4" r="4.95"/>
<circle cx="207.3" cy="400.2" r="4.95"/>
<circle cx="206.2" cy="386.4" r="4.95"/>
<circle cx="234.8" cy="387.8" r="4.95"/>
<circle cx="240.4" cy="393.8" r="4.95"/>
<circle cx="238.3" cy="393.2" r="4.95"/>
<circle cx="230.7" cy="398.6" r="4.95"/>
<circle cx="226.1" cy="375.7" r="4.95"/>
<circle cx="241.6" cy="387.4" r="4.95"/>
<circle cx="428.7" cy="395.5" r="4.95"/>
<circle cx="423.3" cy="375.2" r="4.95"/>
<circle cx="447.9" cy="389.6" r="4.95"/>
<circle cx="419.8" cy="399.9" r="4.95"/>
<circle cx="421.5" cy="398.6" r="4.95"/>
<circle cx="450.0" cy="400.0" r="4.95"/>
<circle cx="422.5" cy="399.8" r="4.95"/>
<circle cx="422.9" cy="394.5" r="4.95"/>
<circle cx="440.5" cy="390.5" r="4.95"/>
<circle cx="450.3" cy="394.0" r="4.95"/>
<circle cx="420.0" cy="376.2" r="4.95"/>
<circle cx="424.8" cy="395.2" r="4.95"/>
<circle cx="420.0" cy="381.4" r="4.95"/>
<circle cx="433.7" cy="398.7" r="4.95"/>
<circle cx="421.4" cy="386.8" r="4.95"/>
<circle cx="419.8" cy="389.2" r="4.95"/>
<circle cx="448.6" cy="399.7" r="4.95"/>
<circle cx="421.7" cy="393.4" r="4.95"/>
<circle cx="431.0" cy="399.7" r="4.95"/>
<circle cx="423.2" cy="397.4" r="4.95"/>
<circle cx="442.7" cy="393.7" r="4.95"/>
<circle cx="433.5" cy="391.2" r="4.95"/>
<circle cx="433.4" cy="392.5" r="4.95"/>
<circle cx="450.3" cy="395.1" r="4.95"/>
<circle cx="452.4" cy="393.1" r="4.95"/>
<circle cx="448.8" cy="399.1" r="4.95"/>
<circle cx="423.2" cy="390.2" r="4.95"/>
<circle cx="425.6" cy="396.8" r="4.95"/>
<circle cx="433.8" cy="398.7" r="4.95"/>
<circle cx="430.3" cy="388.9" r="4.95"/>
<circle cx="419.6" cy="396.1" r="4.95"/>
<circle cx="440.7" cy="391.1" r="4.95"/>
<circle cx="435.3" cy="387.2" r="4.95"/>
<circle cx="441.9" cy="397.4" r="4.95"/>
<circle cx="430.0" cy="394.8" r="4.95"/>
<circle cx="452.7" cy="388.2" r="4.95"/>
<circle cx="429.5" cy="390.4" r="4.95"/>
<circle cx="422.3" cy="391.6" r="4.95"/>
<circle cx="453.8" cy="382.8" r="4.95"/>
<circle cx="450.6" cy="399.7" r="4.95"/>
<circle cx="256.9" cy="66.7" r="4.95"/>
<circle cx="267.9" cy="68.9" r="4.95"/>
<circle cx="298.0" cy="69.8" r="4.95"/>
<circle cx="324.9" cy="71.0" r="4.95"/>
<circle cx="338.0" cy="70.0" r="4.95"/>
<circle cx="344.0" cy="101.8" r="4.95"/>
<circle cx="366.9" cy="87.1" r="4.95"/>
<circle cx="223.9" cy="116.8" r="4.95"/>
<circle cx="235.9" cy="148.9" r="4.95"/>
<circle cx="249.9" cy="218.0" r="4.95"/>
<circle cx="342.0" cy="215.7" r="4.95"/>
<circle cx="441.2" cy="222.1" r="4.95"/>
<circle cx="243.0" cy="270.9" r="4.95"/>
<circle cx="243.8" cy="283.9" r="4.95"/>
<circle cx="322.9" cy="275.8" r="4.95"/>
<circle cx="340.0" cy="275.8" r="4.95"/>
<circle cx="346.3" cy="284.5" r="4.95"/>
<circle cx="87.0" cy="330.1" r="4.95"/>
<circle cx="121.0" cy="339.0" r="4.95"/>
<circle cx="158.0" cy="339.8" r="4.95"/>
<circle cx="187.0" cy="315.1" r="4.95"/>
<circle cx="81.9" cy="355.8" r="4.95"/>
<circle cx="102.8" cy="356.9" r="4.95"/>
<circle cx="122.5" cy="362.8" r="4.95"/>
<circle cx="126.4" cy="360.0" r="4.95"/>
<circle cx="131.2" cy="360.4" r="4.95"/>
<circle cx="134.4" cy="362.0" r="4.95"/>
<circle cx="138.4" cy="362.8" r="4.95"/>
<circle cx="147.1" cy="367.9" r="4.95"/>
<circle cx="129.6" cy="368.4" r="4.95"/>
<circle cx="132.0" cy="375.5" r="4.95"/>
<circle cx="130.4" cy="381.4" r="4.95"/>
<circle cx="140.0" cy="386.7" r="4.95"/>
<circle cx="144.7" cy="390.6" r="4.95"/>
<circle cx="141.5" cy="393.0" r="4.95"/>
<circle cx="105.8" cy="369.2" r="4.95"/>
<circle cx="102.6" cy="373.2" r="4.95"/>
<circle cx="107.4" cy="377.1" r="4.95"/>
<circle cx="112.9" cy="378.7" r="4.95"/>
<circle cx="82.7" cy="384.0" r="4.95"/>
<circle cx="91.9" cy="381.9" r="4.95"/>
<circle cx="97.8" cy="389.9" r="4.95"/>
<circle cx="101.8" cy="390.6" r="4.95"/>
<circle cx="105.8" cy="389.9" r="4.95"/>
<circle cx="109.7" cy="393.0" r="4.95"/>
<circle cx="117.7" cy="385.9" r="4.95"/>
<circle cx="120.9" cy="385.1" r="4.95"/>
<circle cx="120.1" cy="392.2" r="4.95"/>
<circle cx="93.1" cy="399.9" r="4.95"/>
<circle cx="96.2" cy="399.4" r="4.95"/>
<circle cx="105.8" cy="397.8" r="4.95"/>
<circle cx="101.8" cy="396.2" r="4.95"/>
<circle cx="114.5" cy="387.5" r="4.95"/>
<circle cx="162.2" cy="366.0" r="4.95"/>
<circle cx="166.2" cy="358.0" r="4.95"/>
<circle cx="169.4" cy="361.2" r="4.95"/>
<circle cx="160.6" cy="377.1" r="4.95"/>
<circle cx="167.8" cy="373.2" r="4.95"/>
<circle cx="168.6" cy="380.3" r="4.95"/>
<circle cx="165.4" cy="393.8" r="4.95"/>
<circle cx="167.0" cy="399.4" r="4.95"/>
<circle cx="170.2" cy="397.0" r="4.95"/>
<circle cx="183.9" cy="370.8" r="4.95"/>
<circle cx="175.7" cy="381.1" r="4.95"/>
<circle cx="187.9" cy="382.7" r="4.95"/>
<circle cx="178.8" cy="390.6" r="4.95"/>
<circle cx="180.4" cy="399.4" r="4.95"/>
<circle cx="189.2" cy="398.6" r="4.95"/>
<circle cx="194.0" cy="397.8" r="4.95"/>
<circle cx="197.1" cy="386.7" r="4.95"/>
<circle cx="201.1" cy="379.5" r="4.95"/>
<circle cx="205.1" cy="374.7" r="4.95"/>
<circle cx="205.9" cy="378.7" r="4.95"/>
<circle cx="202.7" cy="387.5" r="4.95"/>
<circle cx="200.3" cy="393.8" r="4.95"/>
<circle cx="203.5" cy="397.8" r="4.95"/>
<circle cx="208.3" cy="394.6" r="4.95"/>
<circle cx="213.0" cy="398.6" r="4.95"/>
<circle cx="214.6" cy="382.7" r="4.95"/>
<circle cx="218.6" cy="387.5" r="4.95"/>
<circle cx="215.4" cy="390.6" r="4.95"/>
<circle cx="213.0" cy="358.8" r="4.95"/>
<circle cx="221.0" cy="358.8" r="4.95"/>
<circle cx="225.7" cy="360.4" r="4.95"/>
<circle cx="228.1" cy="358.0" r="4.95"/>
<circle cx="229.7" cy="348.0" r="4.95"/>
<circle cx="222.6" cy="366.8" r="4.95"/>
<circle cx="221.8" cy="371.6" r="4.95"/>
<circle cx="225.0" cy="376.3" r="4.95"/>
<circle cx="226.5" cy="381.1" r="4.95"/>
<circle cx="223.4" cy="384.3" r="4.95"/>
<circle cx="225.0" cy="390.6" r="4.95"/>
<circle cx="228.1" cy="395.4" r="4.95"/>
<circle cx="295.1" cy="303.3" r="4.95"/>
<circle cx="312.9" cy="297.7" r="4.95"/>
<circle cx="313.6" cy="302.3" r="4.95"/>
<circle cx="323.8" cy="305.4" r="4.95"/>
<circle cx="328.1" cy="313.0" r="4.95"/>
<circle cx="295.6" cy="314.8" r="4.95"/>
<circle cx="241.6" cy="313.5" r="4.95"/>
<circle cx="236.5" cy="318.1" r="4.95"/>
<circle cx="239.8" cy="327.0" r="4.95"/>
<circle cx="239.1" cy="333.3" r="4.95"/>
<circle cx="277.3" cy="325.7" r="4.95"/>
<circle cx="281.1" cy="327.0" r="4.95"/>
<circle cx="286.7" cy="325.7" r="4.95"/>
<circle cx="290.0" cy="327.0" r="4.95"/>
<circle cx="282.3" cy="333.3" r="4.95"/>
<circle cx="286.7" cy="333.3" r="4.95"/>
<circle cx="301.4" cy="321.9" r="4.95"/>
<circle cx="304.0" cy="324.4" r="4.95"/>
<circle cx="306.5" cy="328.3" r="4.95"/>
<circle cx="278.0" cy="344.8" r="4.95"/>
<circle cx="338.3" cy="318.1" r="4.95"/>
<circle cx="332.0" cy="327.0" r="4.95"/>
<circle cx="342.1" cy="327.0" r="4.95"/>
<circle cx="333.2" cy="335.9" r="4.95"/>
<circle cx="349.0" cy="321.9" r="4.95"/>
<circle cx="360.0" cy="318.1" r="4.95"/>
<circle cx="361.2" cy="324.4" r="4.95"/>
<circle cx="372.2" cy="309.2" r="4.95"/>
<circle cx="349.8" cy="332.1" r="4.95"/>
<circle cx="344.7" cy="343.5" r="4.95"/>
<circle cx="352.3" cy="343.5" r="4.95"/>
<circle cx="357.4" cy="343.5" r="4.95"/>
<circle cx="366.3" cy="339.7" r="4.95"/>
<circle cx="372.7" cy="328.3" r="4.95"/>
<circle cx="377.8" cy="330.8" r="4.95"/>
<circle cx="318.7" cy="333.3" r="4.95"/>
<circle cx="468.0" cy="303.6" r="4.95"/>
<circle cx="385.3" cy="303.3" r="4.95"/>
<circle cx="382.7" cy="318.1" r="4.95"/>
<circle cx="405.1" cy="323.7" r="4.95"/>
<circle cx="378.9" cy="327.0" r="4.95"/>
<circle cx="386.5" cy="328.3" r="4.95"/>
<circle cx="392.9" cy="330.8" r="4.95"/>
<circle cx="399.3" cy="332.1" r="4.95"/>
<circle cx="400.5" cy="335.9" r="4.95"/>
<circle cx="426.0" cy="328.3" r="4.95"/>
<circle cx="427.3" cy="332.8" r="4.95"/>
<circle cx="415.8" cy="338.9" r="4.95"/>
<circle cx="403.1" cy="341.5" r="4.95"/>
<circle cx="385.3" cy="347.3" r="4.95"/>
<circle cx="375.1" cy="343.5" r="4.95"/>
<circle cx="400.5" cy="349.9" r="4.95"/>
<circle cx="415.8" cy="353.7" r="4.95"/>
<circle cx="485.8" cy="358.0" r="4.95"/>
<circle cx="455.2" cy="358.8" r="4.95"/>
<circle cx="456.5" cy="362.6" r="4.95"/>
<circle cx="482.5" cy="366.6" r="4.95"/>
<circle cx="486.4" cy="370.2" r="4.95"/>
<circle cx="464.7" cy="368.6" r="4.95"/>
<circle cx="467.5" cy="373.0" r="4.95"/>
<circle cx="470.2" cy="378.0" r="4.95"/>
<circle cx="471.8" cy="383.2" r="4.95"/>
<circle cx="502.9" cy="380.0" r="4.95"/>
<circle cx="509.7" cy="388.3" r="4.95"/>
<circle cx="517.8" cy="386.2" r="4.95"/>
<circle cx="537.2" cy="394.0" r="4.95"/>
<circle cx="482.0" cy="386.8" r="4.95"/>
<circle cx="482.0" cy="393.0" r="4.95"/>
<circle cx="470.5" cy="389.0" r="4.95"/>
<circle cx="470.2" cy="396.0" r="4.95"/>
<circle cx="464.1" cy="394.4" r="4.95"/>
<circle cx="457.8" cy="382.5" r="4.95"/>
<circle cx="456.5" cy="386.3" r="4.95"/>
<circle cx="454.0" cy="392.5" r="4.95"/>
<circle cx="448.9" cy="385.0" r="4.95"/>
<circle cx="446.3" cy="394.8" r="4.95"/>
<circle cx="442.5" cy="391.9" r="4.95"/>
<circle cx="438.7" cy="397.0" r="4.95"/>
<circle cx="441.2" cy="383.0" r="4.95"/>
<circle cx="436.2" cy="386.8" r="4.95"/>
<circle cx="431.1" cy="391.9" r="4.95"/>
<circle cx="424.7" cy="366.4" r="4.95"/>
<circle cx="428.5" cy="370.2" r="4.95"/>
<circle cx="426.0" cy="383.0" r="4.95"/>
<circle cx="460.4" cy="389.7" r="4.95"/>
<circle cx="462.9" cy="394.8" r="4.95"/>
<circle cx="445.1" cy="389.7" r="4.95"/>
<circle cx="480.7" cy="385.9" r="4.95"/>
</g>
<path d="M79 405L584.6 48.2" stroke="#FF0000" stroke-width="1" stroke-dasharray="3.6 2.5" fill="none"/>
<g fill="#ED7D31" stroke="#ED7D31" stroke-width="0.7" stroke-linejoin="round">
<path d="M284.0 53.0L290.1 64.7H277.9Z"/>
<path d="M81.9 260.1L88.0 271.8H75.8Z"/>
<path d="M522.7 312.2L528.8 323.9H516.6Z"/>
<path d="M209.1 379.2L215.2 390.9H203.0Z"/>
<path d="M244.0 388.7L250.1 400.4H237.9Z"/>
<path d="M269.9 358.0L276.0 369.7H263.8Z"/>
<path d="M268.3 384.7L274.4 396.4H262.2Z"/>
<path d="M284.8 391.9L290.9 403.6H278.7Z"/>
<path d="M294.1 386.0L300.2 397.7H288.0Z"/>
<path d="M306.8 384.0L312.9 395.7H300.7Z"/>
<path d="M308.0 350.9L314.1 362.6H301.9Z"/>
<path d="M318.7 319.8L324.8 331.5H312.6Z"/>
<path d="M327.1 364.9L333.2 376.6H321.0Z"/>
<path d="M345.2 367.4L351.3 379.1H339.1Z"/>
<path d="M344.0 376.8L350.1 388.5H337.9Z"/>
<path d="M340.9 382.4L347.0 394.1H334.8Z"/>
<path d="M336.1 389.5L342.2 401.2H330.0Z"/>
<path d="M345.7 386.3L351.8 398.0H339.6Z"/>
<path d="M355.2 379.2L361.3 390.9H349.1Z"/>
<path d="M360.0 387.1L366.1 398.8H353.9Z"/>
<path d="M364.7 373.6L370.8 385.3H358.6Z"/>
<path d="M375.9 366.5L382.0 378.2H369.8Z"/>
<path d="M379.0 375.2L385.1 386.9H372.9Z"/>
<path d="M386.2 366.5L392.3 378.2H380.1Z"/>
<path d="M387.0 354.5L393.1 366.2H380.9Z"/>
<path d="M397.3 350.1L403.4 361.8H391.2Z"/>
<path d="M398.9 366.0L405.0 377.7H392.8Z"/>
<path d="M388.6 380.8L394.7 392.5H382.5Z"/>
<path d="M402.6 375.2L408.7 386.9H396.5Z"/>
<path d="M415.5 360.1L421.6 371.8H409.4Z"/>
<path d="M438.0 363.1L444.1 374.8H431.9Z"/>
<path d="M457.0 350.1L463.1 361.8H450.9Z"/>
<path d="M471.0 350.1L477.1 361.8H464.9Z"/>
<path d="M352.0 372.1L358.1 383.8H345.9Z"/>
<path d="M366.0 378.1L372.1 389.8H359.9Z"/>
<path d="M393.0 373.1L399.1 384.8H386.9Z"/>
</g>
<circle cx="86.2" cy="473.3" r="4.95" fill="none" stroke="#4472C4" stroke-opacity="0.74" stroke-width="2"/>
<path d="M303 467.2L309.1 479H296.9Z" fill="#ED7D31" stroke="#ED7D31" stroke-width="0.7" stroke-linejoin="round"/>
<g font-family="Liberation Sans, sans-serif" fill="#595959" stroke="#595959" stroke-width="0.3">
<text x="143.96" y="45.5" font-size="25" textLength="55.23" lengthAdjust="spacingAndGlyphs">SVM</text>
<text x="208.08" y="45.5" font-size="25" textLength="109.76" lengthAdjust="spacingAndGlyphs">distances</text>
<text x="323.74" y="45.5" font-size="25" textLength="23.95" lengthAdjust="spacingAndGlyphs">to</text>
<text x="354.58" y="45.5" font-size="25" textLength="108.45" lengthAdjust="spacingAndGlyphs">centroids</text>
<text x="200.74" y="459.6" font-size="19.6" textLength="80.08" lengthAdjust="spacingAndGlyphs">Distance</text>
<text x="286.71" y="459.6" font-size="19.6" textLength="19.21" lengthAdjust="spacingAndGlyphs">to</text>
<text x="310.53" y="459.6" font-size="19.6" textLength="73.20" lengthAdjust="spacingAndGlyphs">positive</text>
<text x="389.16" y="459.6" font-size="19.6" textLength="78.23" lengthAdjust="spacingAndGlyphs">centroid</text>
<text x="97.97" y="479.4" font-size="19.6" textLength="99.17" lengthAdjust="spacingAndGlyphs">Generated</text>
<text x="203.26" y="479.4" font-size="19.6" textLength="62.32" lengthAdjust="spacingAndGlyphs">output</text>
<text x="315.24" y="479.4" font-size="19.6" textLength="71.50" lengthAdjust="spacingAndGlyphs">Original</text>
<text x="390.96" y="479.4" font-size="19.6" textLength="23.94" lengthAdjust="spacingAndGlyphs">51</text>
<text x="420.88" y="479.4" font-size="19.6" textLength="44.45" lengthAdjust="spacingAndGlyphs">seed</text>
<text x="469.75" y="479.4" font-size="19.6" textLength="73.46" lengthAdjust="spacingAndGlyphs">nodules</text>
<text x="73.44" y="434.9" font-size="16.2" textLength="9.55" lengthAdjust="spacingAndGlyphs">0</text>
<text x="141.32" y="434.9" font-size="16.2" textLength="19.51" lengthAdjust="spacingAndGlyphs">20</text>
<text x="212.90" y="434.9" font-size="16.2" textLength="19.84" lengthAdjust="spacingAndGlyphs">40</text>
<text x="285.10" y="434.9" font-size="16.2" textLength="20.48" lengthAdjust="spacingAndGlyphs">60</text>
<text x="357.38" y="434.9" font-size="16.2" textLength="19.96" lengthAdjust="spacingAndGlyphs">80</text>
<text x="425.09" y="434.9" font-size="16.2" textLength="28.72" lengthAdjust="spacingAndGlyphs">100</text>
<text x="496.89" y="434.9" font-size="16.2" textLength="29.46" lengthAdjust="spacingAndGlyphs">120</text>
<text x="569.25" y="434.9" font-size="16.2" textLength="29.17" lengthAdjust="spacingAndGlyphs">140</text>
<text x="51.79" y="410.5" font-size="16.2" textLength="9.17" lengthAdjust="spacingAndGlyphs">0</text>
<text x="41.18" y="359.4" font-size="16.2" textLength="19.88" lengthAdjust="spacingAndGlyphs">20</text>
<text x="41.29" y="308.2" font-size="16.2" textLength="19.72" lengthAdjust="spacingAndGlyphs">40</text>
<text x="40.62" y="257.1" font-size="16.2" textLength="20.37" lengthAdjust="spacingAndGlyphs">60</text>
<text x="41.14" y="205.9" font-size="16.2" textLength="19.88" lengthAdjust="spacingAndGlyphs">80</text>
<text x="32.21" y="154.8" font-size="16.2" textLength="28.76" lengthAdjust="spacingAndGlyphs">100</text>
<text x="31.80" y="103.6" font-size="16.2" textLength="29.18" lengthAdjust="spacingAndGlyphs">120</text>
<text x="31.80" y="52.5" font-size="16.2" textLength="29.18" lengthAdjust="spacingAndGlyphs">140</text>
<g transform="translate(29,417.7) rotate(-90)">
<text x="-1.53" y="0.0" font-size="19.6" textLength="79.17" lengthAdjust="spacingAndGlyphs">Distance</text>
<text x="84.10" y="0.0" font-size="19.6" textLength="18.06" lengthAdjust="spacingAndGlyphs">to</text>
<text x="107.16" y="0.0" font-size="19.6" textLength="80.52" lengthAdjust="spacingAndGlyphs">negative</text>
<text x="193.73" y="0.0" font-size="19.6" textLength="76.18" lengthAdjust="spacingAndGlyphs">centroid</text>
</g></g>
<g font-family="Liberation Sans, sans-serif" fill="#FF0000" stroke="#FF0000" stroke-width="0.3" transform="translate(401.6,168.5) rotate(-35.3) scale(0.98,1)">
<text x="0.12" y="0.0" font-size="22" textLength="69.99" lengthAdjust="spacingAndGlyphs">Cancer</text>
<text x="76.00" y="0.0" font-size="22" textLength="105.14" lengthAdjust="spacingAndGlyphs">suspected</text>
</g>
<g font-family="Liberation Sans, sans-serif" fill="#FF0000" stroke="#FF0000" stroke-width="0.3" transform="translate(376.0,223.8) rotate(-35.45) scale(0.986,1)">
<text x="-0.49" y="0.0" font-size="22" textLength="38.18" lengthAdjust="spacingAndGlyphs">Not</text>
<text x="43.72" y="0.0" font-size="22" textLength="104.28" lengthAdjust="spacingAndGlyphs">suspected</text>
<text x="152.92" y="0.0" font-size="22" textLength="104.40" lengthAdjust="spacingAndGlyphs">cancerous</text>
</g>
</svg>
</body></html>
